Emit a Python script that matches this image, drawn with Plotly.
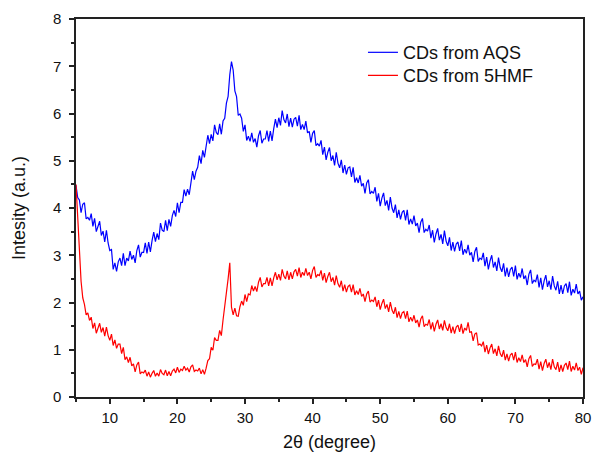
import numpy as np
import plotly.graph_objects as go

# 2theta sampling used for both scans (degrees)
THETA_START = 5.0
THETA_STEP = 0.25

# intensity, 4 samples per degree, 5.00 ... 80.00
aqs = [
    4.48, 4.22, 4.17, 3.90, 4.08, 4.11, 3.77, 3.80,   # 5-6
    3.74, 3.88, 3.61, 3.78, 3.50, 3.64, 3.72, 3.42,   # 7-8
    3.51, 3.28, 3.53, 3.26, 3.10, 3.12, 2.70, 2.84,   # 9-10
    2.66, 2.86, 2.94, 2.78, 3.04, 2.78, 2.94, 2.88,   # 11-12
    3.09, 2.91, 3.00, 2.84, 3.10, 3.22, 2.96, 3.06,   # 13-14
    3.06, 3.26, 3.04, 3.28, 3.07, 3.31, 3.49, 3.29,   # 15-16
    3.46, 3.33, 3.68, 3.53, 3.50, 3.74, 3.52, 3.76,   # 17-18
    3.61, 3.84, 3.95, 3.82, 4.11, 3.90, 4.12, 4.12,   # 19-20
    4.39, 4.25, 4.40, 4.28, 4.58, 4.78, 4.60, 4.78,   # 21-22
    4.86, 5.11, 4.94, 5.22, 5.07, 5.33, 5.54, 5.36,   # 23-24
    5.56, 5.42, 5.76, 5.60, 5.55, 5.78, 5.56, 5.84,   # 25-26
    5.90, 6.22, 6.36, 6.82, 7.10, 6.92, 6.48, 6.36,   # 27-28
    5.96, 5.99, 5.90, 5.62, 5.76, 5.43, 5.52, 5.41,   # 29-30
    5.59, 5.39, 5.47, 5.29, 5.53, 5.64, 5.37, 5.46,   # 31-32
    5.46, 5.64, 5.41, 5.63, 5.42, 5.68, 5.88, 5.70,   # 33-34
    5.91, 5.75, 6.06, 5.87, 5.80, 5.99, 5.72, 5.90,   # 35-36
    5.71, 5.88, 5.92, 5.73, 5.96, 5.66, 5.77, 5.66,   # 37-38
    5.84, 5.59, 5.62, 5.39, 5.58, 5.64, 5.32, 5.36,   # 39-40
    5.31, 5.43, 5.13, 5.29, 5.02, 5.18, 5.28, 5.00,   # 41-42
    5.11, 4.90, 5.18, 4.95, 4.85, 5.02, 4.74, 4.91,   # 43-44
    4.71, 4.85, 4.87, 4.66, 4.86, 4.54, 4.64, 4.53,   # 45-46
    4.69, 4.46, 4.52, 4.31, 4.53, 4.60, 4.30, 4.35,   # 47-48
    4.31, 4.44, 4.14, 4.31, 4.04, 4.21, 4.32, 4.05,   # 49-50
    4.16, 3.95, 4.23, 4.00, 3.90, 4.07, 3.79, 3.96,   # 51-52
    3.76, 3.91, 3.95, 3.74, 3.96, 3.65, 3.77, 3.66,   # 53-54
    3.84, 3.62, 3.68, 3.48, 3.70, 3.78, 3.48, 3.55,   # 55-56
    3.51, 3.64, 3.36, 3.53, 3.27, 3.45, 3.57, 3.32,   # 57-58
    3.44, 3.24, 3.52, 3.30, 3.20, 3.38, 3.10, 3.28,   # 59-60
    3.08, 3.24, 3.28, 3.09, 3.31, 3.01, 3.13, 3.04,   # 61-62
    3.22, 3.00, 3.06, 2.86, 3.08, 3.17, 2.87, 2.94,   # 63-64
    2.91, 3.05, 2.77, 2.96, 2.70, 2.88, 3.00, 2.74,   # 65-66
    2.86, 2.67, 2.95, 2.74, 2.65, 2.83, 2.55, 2.74,   # 67-68
    2.54, 2.70, 2.75, 2.55, 2.78, 2.49, 2.62, 2.53,   # 69-70
    2.72, 2.50, 2.57, 2.37, 2.60, 2.69, 2.40, 2.47,   # 71-72
    2.44, 2.59, 2.32, 2.52, 2.27, 2.46, 2.58, 2.33,   # 73-74
    2.46, 2.27, 2.56, 2.35, 2.26, 2.45, 2.18, 2.37,   # 75-76
    2.18, 2.35, 2.40, 2.21, 2.44, 2.15, 2.28, 2.20,   # 77-78
    2.39, 2.18, 2.24, 2.05, 2.12,                     # 79-80
]

hmf = [
    4.50, 3.70, 3.00, 2.45, 2.10, 1.96, 1.74, 1.78,   # 5-6
    1.62, 1.69, 1.45, 1.57, 1.35, 1.48, 1.56, 1.37,   # 7-8
    1.47, 1.29, 1.48, 1.30, 1.20, 1.33, 1.09, 1.21,   # 9-10
    1.03, 1.12, 1.12, 0.92, 1.05, 0.79, 0.85, 0.73,   # 11-12
    0.84, 0.66, 0.70, 0.53, 0.68, 0.74, 0.49, 0.53,   # 13-14
    0.51, 0.57, 0.44, 0.53, 0.42, 0.50, 0.56, 0.44,   # 15-16
    0.51, 0.44, 0.58, 0.50, 0.47, 0.57, 0.45, 0.54,   # 17-18
    0.45, 0.55, 0.59, 0.51, 0.63, 0.52, 0.59, 0.56,   # 19-20
    0.65, 0.57, 0.61, 0.53, 0.64, 0.68, 0.54, 0.57,   # 21-22
    0.55, 0.61, 0.49, 0.58, 0.48, 0.61, 0.77, 0.81,   # 23-24
    1.05, 0.99, 1.26, 1.20, 1.20, 1.41, 1.30, 1.63,   # 25-26
    1.90, 2.15, 2.50, 2.84, 1.90, 1.74, 1.88, 1.72,   # 27-28
    1.71, 1.91, 2.03, 1.94, 2.17, 2.02, 2.18, 2.16,   # 29-30
    2.36, 2.24, 2.34, 2.23, 2.43, 2.53, 2.33, 2.40,   # 31-32
    2.40, 2.53, 2.35, 2.52, 2.35, 2.52, 2.64, 2.48,   # 33-34
    2.60, 2.47, 2.70, 2.56, 2.50, 2.67, 2.48, 2.64,   # 35-36
    2.50, 2.65, 2.70, 2.56, 2.74, 2.53, 2.64, 2.57,   # 37-38
    2.72, 2.57, 2.64, 2.50, 2.68, 2.76, 2.53, 2.59,   # 39-40
    2.57, 2.68, 2.47, 2.62, 2.42, 2.55, 2.64, 2.44,   # 41-42
    2.53, 2.37, 2.57, 2.40, 2.32, 2.46, 2.24, 2.38,   # 43-44
    2.22, 2.34, 2.37, 2.22, 2.38, 2.16, 2.25, 2.17,   # 45-46
    2.30, 2.13, 2.18, 2.02, 2.18, 2.24, 2.01, 2.05,   # 47-48
    2.02, 2.12, 1.91, 2.05, 1.85, 1.98, 2.07, 1.87,   # 49-50
    1.96, 1.80, 2.01, 1.84, 1.76, 1.90, 1.68, 1.81,   # 51-52
    1.66, 1.78, 1.81, 1.66, 1.82, 1.59, 1.69, 1.60,   # 53-54
    1.73, 1.57, 1.63, 1.48, 1.65, 1.72, 1.49, 1.54,   # 55-56
    1.52, 1.64, 1.43, 1.58, 1.39, 1.54, 1.63, 1.44,   # 57-58
    1.55, 1.41, 1.62, 1.47, 1.40, 1.55, 1.35, 1.49,   # 59-60
    1.34, 1.48, 1.52, 1.38, 1.55, 1.34, 1.46, 1.41,   # 61-62
    1.58, 1.37, 1.38, 1.19, 1.33, 1.36, 1.10, 1.12,   # 63-64
    1.08, 1.17, 0.95, 1.10, 0.91, 1.04, 1.12, 0.92,   # 65-66
    1.02, 0.87, 1.08, 0.92, 0.85, 0.99, 0.78, 0.91,   # 67-68
    0.76, 0.89, 0.93, 0.78, 0.95, 0.73, 0.83, 0.75,   # 69-70
    0.89, 0.73, 0.79, 0.64, 0.81, 0.88, 0.65, 0.70,   # 71-72
    0.69, 0.80, 0.59, 0.75, 0.56, 0.71, 0.80, 0.62,   # 73-74
    0.73, 0.58, 0.80, 0.64, 0.58, 0.74, 0.53, 0.68,   # 75-76
    0.54, 0.67, 0.72, 0.58, 0.76, 0.54, 0.65, 0.57,   # 77-78
    0.72, 0.56, 0.63, 0.48, 0.62,                     # 79-80
]

two_theta = THETA_START + THETA_STEP * np.arange(len(aqs))

FONT = "Liberation Sans, Arial, sans-serif"
legend_font = dict(family=FONT, size=18, color="#111111")

fig = go.Figure()
fig.add_trace(go.Scatter(x=two_theta, y=aqs, mode="lines", name="CDs from AQS",
                         line=dict(color="#0000FF", width=1.2), legend="legend"))
fig.add_trace(go.Scatter(x=two_theta, y=hmf, mode="lines", name="CDs from 5HMF",
                         line=dict(color="#FF0000", width=1.2), legend="legend2"))

axis_style = dict(
    showline=True, linecolor="#222222", linewidth=1.5, mirror=True,
    showgrid=False, zeroline=False, automargin=False,
    ticks="outside", ticklen=5, tickwidth=1.5, tickcolor="#222222",
    tickfont=dict(family=FONT, size=15, color="#111111"),
)

fig.update_xaxes(
    range=[5, 80], tick0=0, dtick=10, ticklabelstandoff=1,
    minor=dict(ticks="outside", ticklen=3, tickcolor="#222222", dtick=5, tick0=0),
    title=dict(text="2θ (degree)", font=dict(family=FONT, size=18, color="#111111"), standoff=11),
    **axis_style,
)
fig.update_yaxes(
    range=[0, 8], tick0=0, dtick=1, ticklabelstandoff=5,
    minor=dict(ticks="outside", ticklen=3, tickcolor="#222222", dtick=0.5, tick0=0),
    title=dict(text="Intesity (a.u.)", font=dict(family=FONT, size=18, color="#111111"), standoff=23),
    **axis_style,
)

fig.update_layout(
    width=592, height=453,
    margin=dict(l=76, r=9, t=19, b=56),
    paper_bgcolor="white", plot_bgcolor="white",
    showlegend=True,
    legend=dict(x=0.566, y=0.960, xanchor="left", yanchor="top", font=legend_font,
                bgcolor="rgba(0,0,0,0)"),
    legend2=dict(x=0.566, y=0.899, xanchor="left", yanchor="top", font=legend_font,
                 bgcolor="rgba(0,0,0,0)"),
)

fig.write_html("out.html", config={"displayModeBar": False},
               post_script="document.body.style.margin='0';")
